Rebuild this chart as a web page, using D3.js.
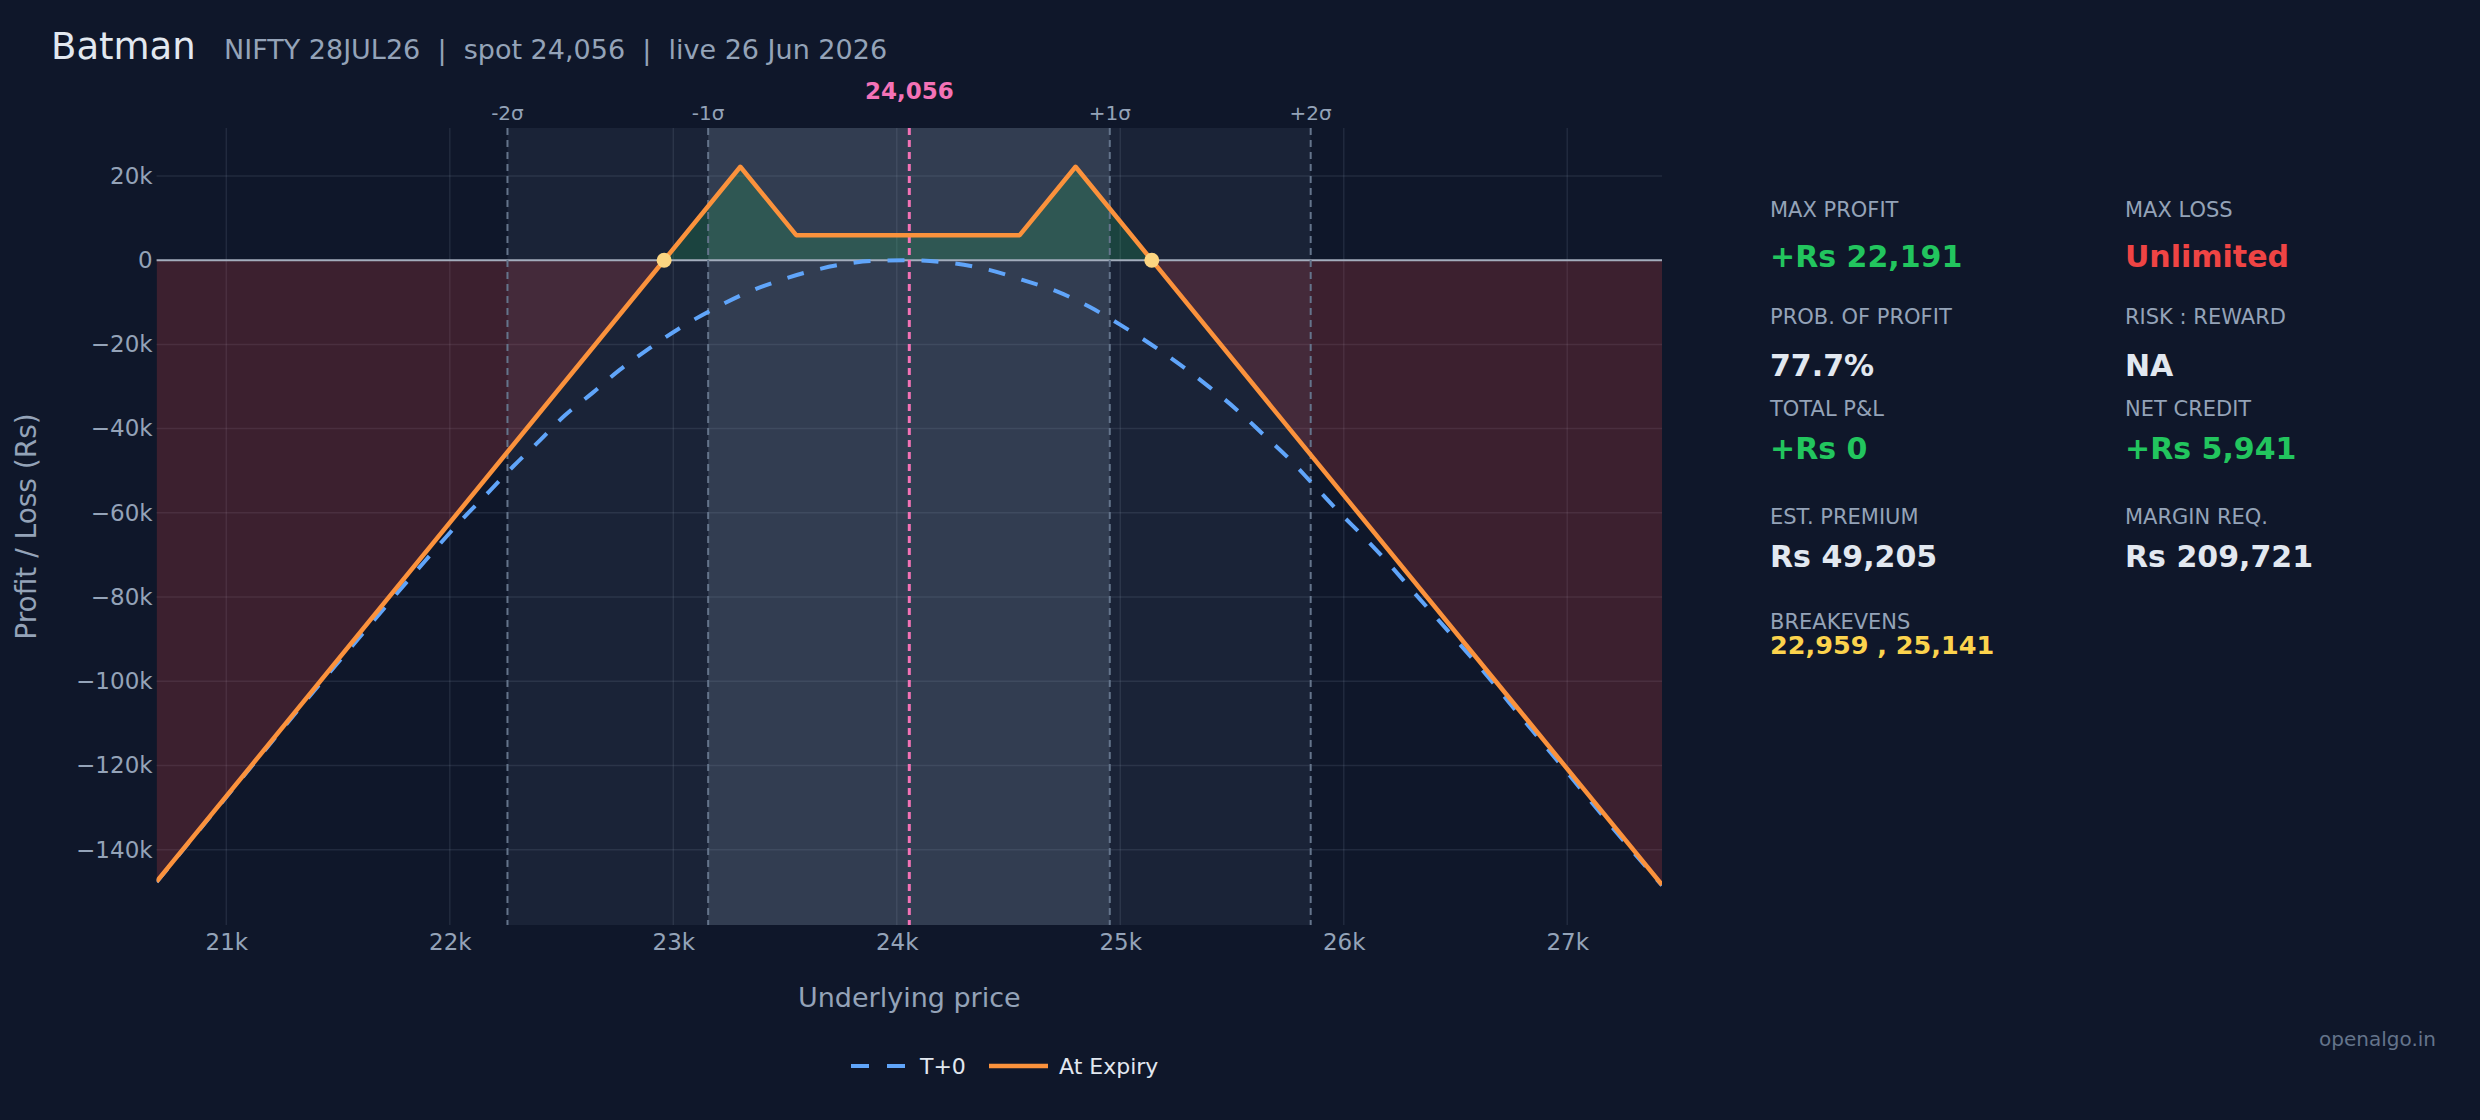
<!DOCTYPE html>
<html>
<head>
<meta charset="utf-8">
<script src="https://cdn.jsdelivr.net/npm/d3@7"></script>
<style>
  body { margin: 0; background: #0f172a; }
  svg { display: block; font-family: "DejaVu Sans", sans-serif; }
</style>
</head>
<body>
<div id="chart"></div>
<script>
// ---- data ----
const strategyName = "Batman";
const subtitle = "NIFTY 28JUL26  |  spot 24,056  |  live 26 Jun 2026";
const spot = 24056;
const priceRange = [20688, 27424];

const sigmaLabels = ["-2σ", "-1σ", "+1σ", "+2σ"];
const sigmaPrices = [22258, 23156, 24953, 25852];

// at expiry payoff (vertices)
const expiryPrices = [20688, 22959, 23300, 23550, 24550, 24800, 25141, 27424];
const expiryPnl = [-147589, 0, 22191, 5941, 5941, 22191, 0, -148369];

// T+0 curve
const t0Prices = [20688, 21000, 21200, 21400, 21600, 21848, 22060, 22176, 22283, 22402,
  22514, 22640, 22760, 22894, 23028, 23169, 23311, 23460, 23608, 23772, 23891, 24056,
  24249, 24413, 24562, 24711, 24860, 25001, 25135, 25269, 25396, 25522, 25634, 25753,
  25865, 25977, 26088, 26200, 26304, 26416, 26600, 26800, 27000, 27200, 27424];
const t0Pnl = [-147700, -127500, -114600, -101850, -89300, -73950, -61280, -54950, -49000, -42850,
  -36900, -31450, -26050, -20900, -16150, -11900, -8150, -5080, -2700, -850, -170, -20,
  -710, -2300, -4680, -7300, -11020, -15370, -19900, -24870, -30020, -35550, -41090, -47030,
  -53360, -59700, -65640, -71970, -78300, -85030, -96100, -108900, -121700, -134600, -148500];

const breakevens = [22959, 25141];

const xTicks = [21000, 22000, 23000, 24000, 25000, 26000, 27000];
const yTicks = [20000, 0, -20000, -40000, -60000, -80000, -100000, -120000, -140000];

const statLabels = ["MAX PROFIT", "MAX LOSS", "PROB. OF PROFIT", "RISK : REWARD",
  "TOTAL P&L", "NET CREDIT", "EST. PREMIUM", "MARGIN REQ."];
const statValues = ["+Rs 22,191", "Unlimited", "77.7%", "NA",
  "+Rs 0", "+Rs 5,941", "Rs 49,205", "Rs 209,721"];
const breakevenText = "22,959 , 25,141";

const legendNames = ["T+0", "At Expiry"];

// ---- layout ----
const W = 2480, H = 1120;
const plot = { left: 156.6, right: 1662, top: 128, bottom: 925 };

const svg = d3.select("#chart").append("svg")
  .attr("width", W)
  .attr("height", H);

svg.append("rect").attr("width", W).attr("height", H).attr("fill", "#0f172a");

const x = d3.scaleLinear().domain(priceRange).range([plot.left, plot.right]);
const y = d3.scaleLinear().domain([-157900, 31400]).range([plot.bottom, plot.top]);

const expiry = expiryPrices.map((p, i) => ({ p, v: expiryPnl[i] }));
const t0 = t0Prices.map((p, i) => ({ p, v: t0Pnl[i] }));

// title
svg.append("text")
  .attr("x", 51).attr("y", 59)
  .attr("fill", "#e2e8f0")
  .style("font-size", "37px")
  .text(strategyName);

svg.append("text")
  .attr("x", 224).attr("y", 59)
  .attr("fill", "#94a3b8")
  .style("font-size", "27px")
  .style("white-space", "pre")
  .attr("xml:space", "preserve")
  .text(subtitle);

// clip paths
const defs = svg.append("defs");
defs.append("clipPath").attr("id", "clip-plot").append("rect")
  .attr("x", plot.left).attr("y", plot.top)
  .attr("width", plot.right - plot.left).attr("height", plot.bottom - plot.top);
defs.append("clipPath").attr("id", "clip-pos").append("rect")
  .attr("x", plot.left).attr("y", plot.top)
  .attr("width", plot.right - plot.left).attr("height", y(0) - plot.top);
defs.append("clipPath").attr("id", "clip-neg").append("rect")
  .attr("x", plot.left).attr("y", y(0))
  .attr("width", plot.right - plot.left).attr("height", plot.bottom - y(0));

// sigma bands
svg.append("rect")
  .attr("x", x(sigmaPrices[0])).attr("y", plot.top)
  .attr("width", x(sigmaPrices[3]) - x(sigmaPrices[0]))
  .attr("height", plot.bottom - plot.top)
  .attr("fill", "rgba(148,163,184,0.09)");
svg.append("rect")
  .attr("x", x(sigmaPrices[1])).attr("y", plot.top)
  .attr("width", x(sigmaPrices[2]) - x(sigmaPrices[1]))
  .attr("height", plot.bottom - plot.top)
  .attr("fill", "rgba(148,163,184,0.2)");

// grid
svg.append("g")
  .selectAll("line")
  .data(xTicks)
  .enter().append("line")
  .attr("x1", d => x(d)).attr("x2", d => x(d))
  .attr("y1", plot.top).attr("y2", plot.bottom)
  .attr("stroke", "rgba(148,163,184,0.14)")
  .attr("stroke-width", 1.5);

svg.append("g")
  .selectAll("line")
  .data(yTicks.filter(d => d !== 0))
  .enter().append("line")
  .attr("x1", plot.left).attr("x2", plot.right)
  .attr("y1", d => y(d)).attr("y2", d => y(d))
  .attr("stroke", "rgba(148,163,184,0.14)")
  .attr("stroke-width", 1.5);

// profit / loss fills
const area = d3.area()
  .x(d => x(d.p))
  .y0(y(0))
  .y1(d => y(d.v));

svg.append("path")
  .datum(expiry)
  .attr("d", area)
  .attr("clip-path", "url(#clip-pos)")
  .attr("fill", "rgba(34,197,94,0.2)");

svg.append("path")
  .datum(expiry)
  .attr("d", area)
  .attr("clip-path", "url(#clip-neg)")
  .attr("fill", "rgba(239,68,68,0.2)");

// zero line
svg.append("line")
  .attr("x1", plot.left).attr("x2", plot.right)
  .attr("y1", y(0)).attr("y2", y(0))
  .attr("stroke", "#a3adbd")
  .attr("stroke-width", 2);

// sigma lines + labels
svg.append("g")
  .selectAll("line")
  .data(sigmaPrices)
  .enter().append("line")
  .attr("x1", d => x(d)).attr("x2", d => x(d))
  .attr("y1", plot.top).attr("y2", plot.bottom)
  .attr("stroke", "#64748b")
  .attr("stroke-width", 2)
  .attr("stroke-dasharray", "7,5");

svg.append("g")
  .selectAll("text")
  .data(sigmaPrices)
  .enter().append("text")
  .attr("x", d => x(d))
  .attr("y", 120)
  .attr("text-anchor", "middle")
  .attr("fill", "#94a3b8")
  .style("font-size", "20px")
  .text((d, i) => sigmaLabels[i]);

// spot line
svg.append("line")
  .attr("x1", x(spot)).attr("x2", x(spot))
  .attr("y1", plot.top).attr("y2", plot.bottom)
  .attr("stroke", "#f472b6")
  .attr("stroke-width", 3)
  .attr("stroke-dasharray", "7,5");

svg.append("text")
  .attr("x", x(spot)).attr("y", 99)
  .attr("text-anchor", "middle")
  .attr("fill", "#f472b6")
  .style("font-size", "23px")
  .style("font-weight", "bold")
  .text(d3.format(",")(spot));

// T+0 and expiry lines
const lineGroup = svg.append("g").attr("clip-path", "url(#clip-plot)");

lineGroup.append("path")
  .datum(t0)
  .attr("d", d3.line().x(d => x(d.p)).y(d => y(d.v)).curve(d3.curveMonotoneX))
  .attr("fill", "none")
  .attr("stroke", "#60a5fa")
  .attr("stroke-width", 4)
  .attr("stroke-dasharray", "17,17");

lineGroup.append("path")
  .datum(expiry)
  .attr("d", d3.line().x(d => x(d.p)).y(d => y(d.v)))
  .attr("fill", "none")
  .attr("stroke", "#fb923c")
  .attr("stroke-width", 4.5)
  .attr("stroke-linejoin", "round");

// breakeven markers
svg.append("g")
  .selectAll("circle")
  .data(breakevens)
  .enter().append("circle")
  .attr("cx", d => x(d))
  .attr("cy", y(0))
  .attr("r", 7.5)
  .attr("fill", "#fcd581");

// axes
const yAxis = svg.append("g")
  .attr("transform", `translate(${plot.left},0)`)
  .call(d3.axisLeft(y).tickValues(yTicks).tickFormat(d3.format("~s")).tickSize(0).tickPadding(4));
yAxis.select(".domain").remove();
yAxis.selectAll("text")
  .attr("fill", "#94a3b8")
  .style("font-size", "23px")
  .style("font-family", "DejaVu Sans");

const xAxis = svg.append("g")
  .attr("transform", `translate(0,${plot.bottom})`)
  .call(d3.axisBottom(x).tickValues(xTicks).tickFormat(d3.format("~s")).tickSize(0).tickPadding(9));
xAxis.select(".domain").remove();
xAxis.selectAll("text")
  .attr("fill", "#94a3b8")
  .style("font-size", "23px")
  .style("font-family", "DejaVu Sans");

// axis titles
svg.append("text")
  .attr("x", (plot.left + plot.right) / 2)
  .attr("y", 1007)
  .attr("text-anchor", "middle")
  .attr("fill", "#94a3b8")
  .style("font-size", "27px")
  .text("Underlying price");

svg.append("text")
  .attr("transform", "rotate(-90)")
  .attr("x", -(plot.top + plot.bottom) / 2)
  .attr("y", 36)
  .attr("text-anchor", "middle")
  .attr("fill", "#94a3b8")
  .style("font-size", "28px")
  .text("Profit / Loss (Rs)");

// legend
const legend = svg.append("g");
legend.append("line")
  .attr("x1", 851).attr("x2", 907).attr("y1", 1066).attr("y2", 1066)
  .attr("stroke", "#60a5fa").attr("stroke-width", 4)
  .attr("stroke-dasharray", "18,18");
legend.append("text")
  .attr("x", 920).attr("y", 1074)
  .attr("fill", "#e2e8f0").style("font-size", "22px")
  .text(legendNames[0]);
legend.append("line")
  .attr("x1", 989).attr("x2", 1048).attr("y1", 1066).attr("y2", 1066)
  .attr("stroke", "#fb923c").attr("stroke-width", 4.5);
legend.append("text")
  .attr("x", 1059).attr("y", 1074)
  .attr("fill", "#e2e8f0").style("font-size", "22px")
  .text(legendNames[1]);

// stats panel
const colX = [1770, 2125];
const labelY = [217, 324, 416, 524];
const valueY = [267, 376, 459, 567];

function valueColor(v) {
  if (v === "Unlimited") return "#ef4444";
  if (v.startsWith("+")) return "#22c55e";
  return "#e2e8f0";
}

const stats = svg.append("g");
statLabels.forEach((label, i) => {
  const col = i % 2, row = Math.floor(i / 2);
  stats.append("text")
    .attr("x", colX[col]).attr("y", labelY[row])
    .attr("fill", "#94a3b8")
    .style("font-size", "21px")
    .text(label);
  stats.append("text")
    .attr("x", colX[col]).attr("y", valueY[row])
    .attr("fill", valueColor(statValues[i]))
    .style("font-size", "30px")
    .style("font-weight", "bold")
    .text(statValues[i]);
});

stats.append("text")
  .attr("x", colX[0]).attr("y", 629)
  .attr("fill", "#94a3b8")
  .style("font-size", "21px")
  .text("BREAKEVENS");
stats.append("text")
  .attr("x", colX[0]).attr("y", 654)
  .attr("fill", "#fcd34d")
  .style("font-size", "25.5px")
  .style("font-weight", "bold")
  .text(breakevenText);

svg.append("text")
  .attr("x", 2436).attr("y", 1046)
  .attr("text-anchor", "end")
  .attr("fill", "#64748b")
  .style("font-size", "20px")
  .text("openalgo.in");
</script>
</body>
</html>
